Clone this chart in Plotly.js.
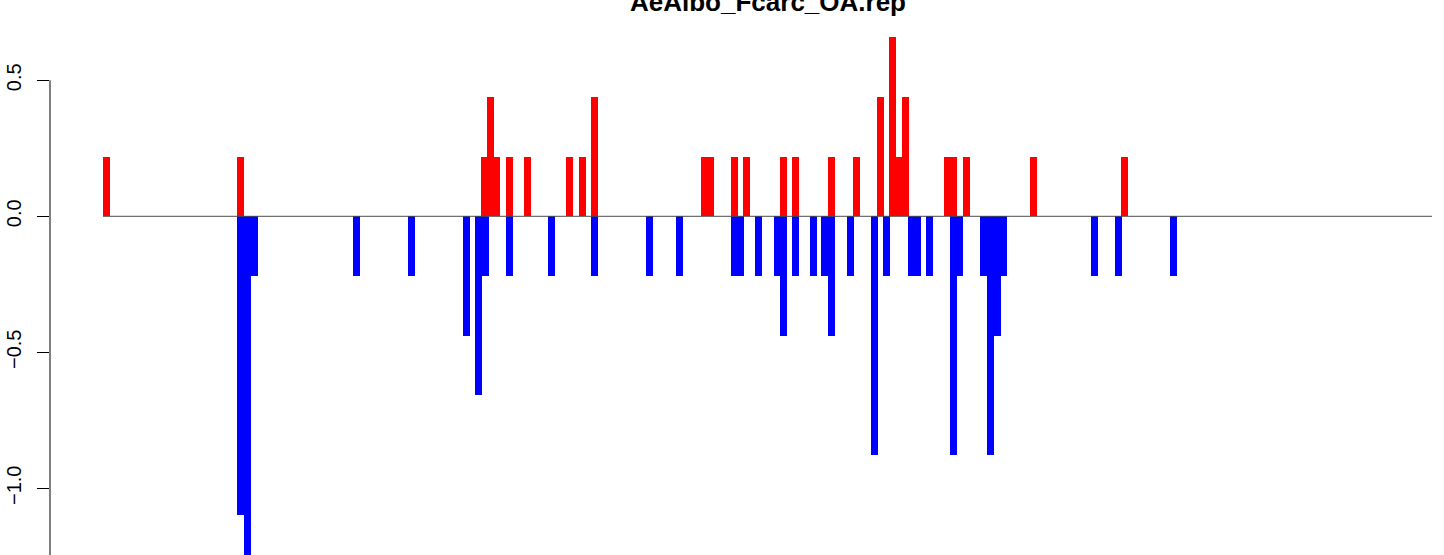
<!DOCTYPE html>
<html>
<head>
<meta charset="utf-8">
<script src="https://cdn.plot.ly/plotly-3.0.1.min.js"></script>
<style>
  html, body { margin: 0; padding: 0; background: #ffffff; }
  #chart { width: 1444px; height: 555px; }
</style>
</head>
<body>
<div id="chart"></div>
<script>
// ---- data (positions in bin units) ----
const chartTitle = "AeAlbo_Fcarc_OA.rep";

const gainPositions = [0.58, 22.92, 63.58, 64.58, 65.58, 67.75, 70.75, 77.75, 79.92, 81.92,
  100.25, 101.25, 105.25, 107.25, 113.42, 115.42, 121.42, 125.58, 129.58, 131.58,
  132.67, 133.75, 140.75, 141.75, 143.92, 155.08, 170.25];
const gainValues = [0.219, 0.219, 0.219, 0.439, 0.219, 0.219, 0.219, 0.219, 0.219, 0.439,
  0.219, 0.219, 0.219, 0.219, 0.219, 0.219, 0.219, 0.219, 0.439, 0.658,
  0.219, 0.439, 0.219, 0.219, 0.219, 0.219, 0.219];

const lossPositions = [22.92, 24.08, 25.17, 42.25, 51.42, 60.58, 62.58, 63.67, 67.75, 74.75,
  81.92, 91.08, 96.08, 105.25, 106.25, 109.25, 112.42, 113.42, 115.42, 118.42,
  120.33, 121.42, 124.58, 128.58, 130.58, 134.75, 135.75, 137.75, 141.75, 142.83,
  146.83, 147.92, 149.0, 150.0, 165.25, 169.25, 178.42];
const lossValues = [-1.097, -1.317, -0.219, -0.219, -0.219, -0.439, -0.658, -0.219, -0.219, -0.219,
  -0.219, -0.219, -0.219, -0.219, -0.219, -0.219, -0.219, -0.439, -0.219, -0.219,
  -0.219, -0.439, -0.219, -0.878, -0.219, -0.219, -0.219, -0.219, -0.878, -0.219,
  -0.219, -0.878, -0.439, -0.219, -0.219, -0.219, -0.219];

const yTickValues = [0.5, 0.0, -0.5, -1.0];
const yTickLabels = ["0.5", "0.0", "\u22120.5", "\u22121.0"];

const baselineStart = 0;      // extent of the zero line (bin units)
const baselineEnd = 221.5;
const binWidth = 7 / 6;

const xRange = [-8.833, 223.5];
const yRange = [-1.2452, 0.7952];

const traces = [
  {
    type: 'bar', x: gainPositions, y: gainValues, width: binWidth,
    marker: { color: '#ff0000', line: { width: 0 } }, hoverinfo: 'x+y', showlegend: false
  },
  {
    type: 'bar', x: lossPositions, y: lossValues, width: binWidth,
    marker: { color: '#0000ff', line: { width: 0 } }, hoverinfo: 'x+y', showlegend: false
  }
];

const layout = {
  width: 1444, height: 555,
  margin: { l: 50, r: 0, t: 0, b: 0, pad: 0 },
  paper_bgcolor: '#ffffff', plot_bgcolor: '#ffffff',
  barmode: 'overlay', bargap: 0,
  showlegend: false,
  font: { family: 'Liberation Sans, Arial, sans-serif', color: '#000000' },
  xaxis: {
    range: xRange, visible: false, fixedrange: true
  },
  yaxis: {
    range: yRange, showgrid: false, zeroline: false, showline: false,
    tickmode: 'array', tickvals: yTickValues, ticktext: yTickLabels,
    ticks: 'outside', ticklen: 12, tickwidth: 1, tickcolor: '#000000',
    tickangle: -90, ticklabelstandoff: 8,
    tickfont: { size: 20, color: '#000000', family: 'Liberation Sans, Arial, sans-serif' },
    fixedrange: true
  },
  shapes: [
    { type: 'line', xref: 'x', yref: 'y', x0: baselineStart, x1: baselineEnd, y0: 0, y1: 0,
      line: { color: '#4d4d4d', width: 1 } },
    { type: 'line', xref: 'paper', yref: 'y', x0: 0, x1: 0, y0: 0.5, y1: yRange[0],
      line: { color: '#000000', width: 1 } }
  ],
  annotations: [
    { text: '<b>' + chartTitle + '</b>', xref: 'paper', yref: 'paper', x: 0.515, y: 1,
      xanchor: 'center', yanchor: 'middle', yshift: -2, showarrow: false,
      font: { size: 26, color: '#000000', family: 'Liberation Sans, Arial, sans-serif' } }
  ]
};

Plotly.newPlot('chart', traces, layout, { displayModeBar: false, staticPlot: true });
</script>
</body>
</html>
